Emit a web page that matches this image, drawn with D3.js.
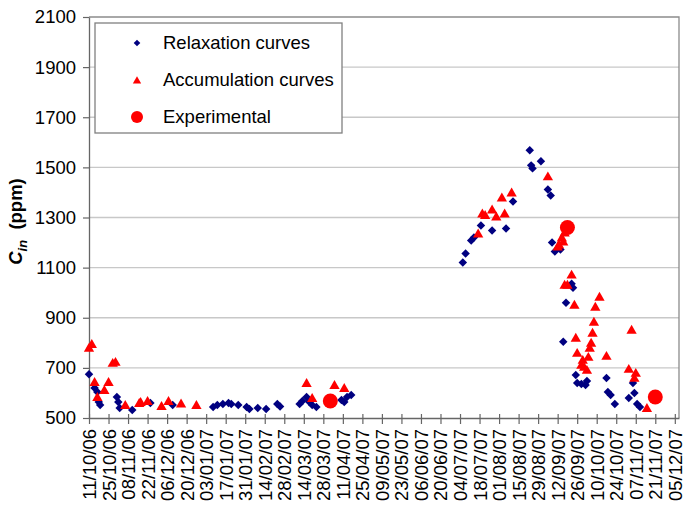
<!DOCTYPE html>
<html>
<head>
<meta charset="utf-8">
<script src="https://cdn.jsdelivr.net/npm/d3@7"></script>
<style>
  html, body { margin: 0; padding: 0; background: #fff; }
  svg { display: block; font-family: "Liberation Sans", Arial, sans-serif; }
</style>
</head>
<body>
<svg id="chart" width="687" height="505"></svg>
<script>
// Indoor concentration C_in (ppm) over time, Oct 2006 – Dec 2007

// Date axis tick labels (every 14 days)
const tickLabels = [
  "11/10/06","25/10/06","08/11/06","22/11/06","06/12/06","20/12/06",
  "03/01/07","17/01/07","31/01/07","14/02/07","28/02/07","14/03/07",
  "28/03/07","11/04/07","25/04/07","09/05/07","23/05/07","06/06/07",
  "20/06/07","04/07/07","18/07/07","01/08/07","15/08/07","29/08/07",
  "12/09/07","26/09/07","10/10/07","24/10/07","07/11/07","21/11/07",
  "05/12/07"
];
const yTicks = [500, 700, 900, 1100, 1300, 1500, 1700, 1900, 2100];

// Relaxation curves
const relaxDates = [
  "2006-10-11","2006-10-15","2006-10-17","2006-10-18","2006-10-19","2006-10-31",
  "2006-11-01","2006-11-02","2006-11-11","2006-11-24","2006-12-10",
  "2007-01-08","2007-01-11","2007-01-15","2007-01-19","2007-01-21","2007-01-26",
  "2007-02-01","2007-02-03","2007-02-09","2007-02-15","2007-02-23","2007-02-25",
  "2007-03-11","2007-03-13","2007-03-16","2007-03-18","2007-03-20","2007-03-23",
  "2007-04-10","2007-04-12","2007-04-14","2007-04-17",
  "2007-07-06","2007-07-08","2007-07-12","2007-07-14","2007-07-19","2007-07-27",
  "2007-08-06","2007-08-11","2007-08-23","2007-08-24","2007-08-25","2007-08-31",
  "2007-09-05","2007-09-07","2007-09-08","2007-09-10","2007-09-14",
  "2007-09-22","2007-09-23","2007-09-18","2007-09-16",
  "2007-09-25","2007-09-26","2007-09-29","2007-10-03","2007-10-02",
  "2007-10-17","2007-10-18","2007-10-20","2007-10-23",
  "2007-11-05","2007-11-06","2007-11-02","2007-11-08","2007-11-10"
];
const relaxValues = [
  675, 620, 604, 564, 552, 584,
  564, 540, 532, 560, 552,
  544, 552, 556, 560, 556, 552,
  544, 536, 540, 536, 556, 546,
  556, 568, 584, 564, 552, 544,
  572, 564, 584, 592,
  1120, 1156, 1208, 1220, 1268, 1248,
  1256, 1364, 1568, 1508, 1496, 1524,
  1412, 1388, 1200, 1164, 1172,
  1036, 1020, 960, 804,
  672, 640, 636, 648, 632,
  660, 604, 592, 556,
  640, 600, 580, 556, 544
];

// Accumulation curves
const accumDates = [
  "2006-10-11","2006-10-13","2006-10-15","2006-10-17","2006-10-22","2006-10-25",
  "2006-10-28","2006-10-30","2006-11-06","2006-11-16","2006-11-17","2006-11-22",
  "2006-12-02","2006-12-07","2006-12-16","2006-12-27",
  "2007-03-16","2007-03-20","2007-04-05","2007-04-12",
  "2007-07-17","2007-07-20","2007-07-22","2007-07-27","2007-07-30","2007-08-03",
  "2007-08-05","2007-08-10","2007-09-05",
  "2007-09-17","2007-09-15","2007-09-16","2007-09-13","2007-09-12",
  "2007-09-22","2007-09-17","2007-09-19","2007-09-24",
  "2007-10-12","2007-10-09","2007-09-25","2007-10-08","2007-10-07","2007-10-06",
  "2007-10-05","2007-10-04","2007-09-30","2007-09-26","2007-09-29","2007-10-01",
  "2007-10-03","2007-10-17",
  "2007-11-04","2007-11-02","2007-11-07","2007-11-06","2007-11-15"
];
const accumValues = [
  780, 795, 644, 584, 612, 644,
  720, 724, 552, 560, 564, 568,
  548, 568, 558, 552,
  640, 580, 632, 620,
  1236, 1316, 1310, 1332, 1304, 1380,
  1316, 1400, 1464,
  1240, 1220, 1204, 1192, 1184,
  1072, 1032, 1032, 952,
  984, 944, 820, 884, 840, 800,
  780, 744, 732, 760, 712, 704,
  692, 748,
  852, 696, 680, 660, 540
];

// Experimental measurements
const expDates = ["2007-04-02", "2007-09-19", "2007-11-21"];
const expValues = [568, 1260, 584];

const seriesNames = ["Relaxation curves", "Accumulation curves", "Experimental"];

// ---- setup ----
const parseIso = d3.utcParse("%Y-%m-%d");
const parseTick = d3.utcParse("%d/%m/%y");
const fmtTick = d3.utcFormat("%d/%m/%y");

const svg = d3.select("#chart");
const margin = { left: 89, top: 17, right: 8, bottom: 87 };
const W = 687, H = 505;
const innerL = margin.left, innerR = W - margin.right;
const innerT = margin.top, innerB = H - margin.bottom;

const tickDates = tickLabels.map(parseTick);
const xStart = tickDates[0];
const xEnd = d3.utcDay.offset(tickDates[tickDates.length - 1], 3);

const x = d3.scaleUtc().domain([xStart, xEnd]).range([innerL, innerR]);
const y = d3.scaleLinear().domain([500, 2100]).range([innerB, innerT]);

const BLUE = "#000080";
const RED = "#ff0000";
const FONT = 18.5;

// horizontal gridlines
svg.append("g")
  .selectAll("line")
  .data(yTicks.slice(1, -1))
  .join("line")
  .attr("x1", innerL).attr("x2", innerR)
  .attr("y1", d => y(d)).attr("y2", d => y(d))
  .attr("stroke", "#c8c8c8").attr("stroke-width", 1.3);

// frame (top and right)
svg.append("path")
  .attr("d", `M${innerL},${innerT}H${innerR}V${innerB}`)
  .attr("fill", "none").attr("stroke", "#8c8c8c").attr("stroke-width", 1.3);

// y axis
const yAxis = svg.append("g")
  .attr("transform", `translate(${innerL},0)`)
  .call(d3.axisLeft(y).tickValues(yTicks).tickFormat(d3.format("d"))
    .tickSize(6).tickPadding(7).tickSizeOuter(0));
yAxis.select(".domain").attr("stroke", "#666").attr("stroke-width", 1.3);
yAxis.selectAll(".tick line").attr("stroke", "#666").attr("stroke-width", 1.2);
yAxis.selectAll(".tick text")
  .attr("font-size", FONT).attr("fill", "#000")
  .attr("font-family", "Liberation Sans, Arial, sans-serif");

// x axis
const xAxis = svg.append("g")
  .attr("transform", `translate(0,${innerB})`)
  .call(d3.axisBottom(x).tickValues(tickDates).tickFormat(fmtTick)
    .tickSize(6).tickSizeOuter(0));
xAxis.select(".domain").attr("stroke", "#666").attr("stroke-width", 1.3);
xAxis.selectAll(".tick line").attr("stroke", "#666").attr("stroke-width", 1.2)
  .attr("y1", -4);
xAxis.selectAll(".tick text")
  .attr("font-size", FONT).attr("fill", "#000")
  .attr("font-family", "Liberation Sans, Arial, sans-serif")
  .attr("transform", "rotate(-90)")
  .attr("text-anchor", "end")
  .attr("x", -11).attr("y", 0).attr("dy", "0.35em");

// y axis title: C_in (ppm)
const yTitle = svg.append("text")
  .attr("transform", `translate(22,${(innerT + innerB) / 2 + 4}) rotate(-90)`)
  .attr("text-anchor", "middle")
  .attr("font-size", FONT).attr("font-weight", "bold");
yTitle.append("tspan").attr("font-style", "italic").text("C");
yTitle.append("tspan").attr("font-style", "italic").attr("font-size", FONT * 0.7)
  .attr("dy", 5).text("in");
yTitle.append("tspan").attr("dy", -5).text("\u00a0 (ppm)");

// markers
const diamond = d3.symbol().type(d3.symbolSquare).size(36)();
const triangle = d3.symbol().type(d3.symbolTriangle).size(46)();

const relax = relaxDates.map((d, i) => ({ date: parseIso(d), value: relaxValues[i] }));
const accum = accumDates.map((d, i) => ({ date: parseIso(d), value: accumValues[i] }));
const exper = expDates.map((d, i) => ({ date: parseIso(d), value: expValues[i] }));

svg.append("g").selectAll("path")
  .data(relax).join("path")
  .attr("d", diamond)
  .attr("transform", d => `translate(${x(d.date)},${y(d.value)}) rotate(45)`)
  .attr("fill", BLUE);

svg.append("g").selectAll("path")
  .data(accum).join("path")
  .attr("d", triangle)
  .attr("transform", d => `translate(${x(d.date)},${y(d.value) + 1})`)
  .attr("fill", RED);

svg.append("g").selectAll("circle")
  .data(exper).join("circle")
  .attr("cx", d => x(d.date)).attr("cy", d => y(d.value))
  .attr("r", 7.5).attr("fill", RED);

// legend
const legend = svg.append("g").attr("transform", "translate(95,23)");
legend.append("rect")
  .attr("width", 247).attr("height", 110)
  .attr("fill", "#fff").attr("stroke", "#808080").attr("stroke-width", 1.3);

const legendMarks = [
  g => g.append("path").attr("d", d3.symbol().type(d3.symbolSquare).size(22)())
        .attr("transform", "rotate(45)").attr("fill", BLUE),
  g => g.append("path").attr("d", d3.symbol().type(d3.symbolTriangle).size(30)())
        .attr("transform", "translate(0,1)").attr("fill", RED),
  g => g.append("circle").attr("r", 6).attr("fill", RED)
];

seriesNames.forEach((name, i) => {
  const row = legend.append("g").attr("transform", `translate(0,${20 + i * 37})`);
  legendMarks[i](row.append("g").attr("transform", "translate(42,0)"));
  row.append("text")
    .attr("x", 68).attr("dy", "0.35em")
    .attr("font-size", FONT).attr("fill", "#000")
    .text(name);
});
</script>
</body>
</html>
